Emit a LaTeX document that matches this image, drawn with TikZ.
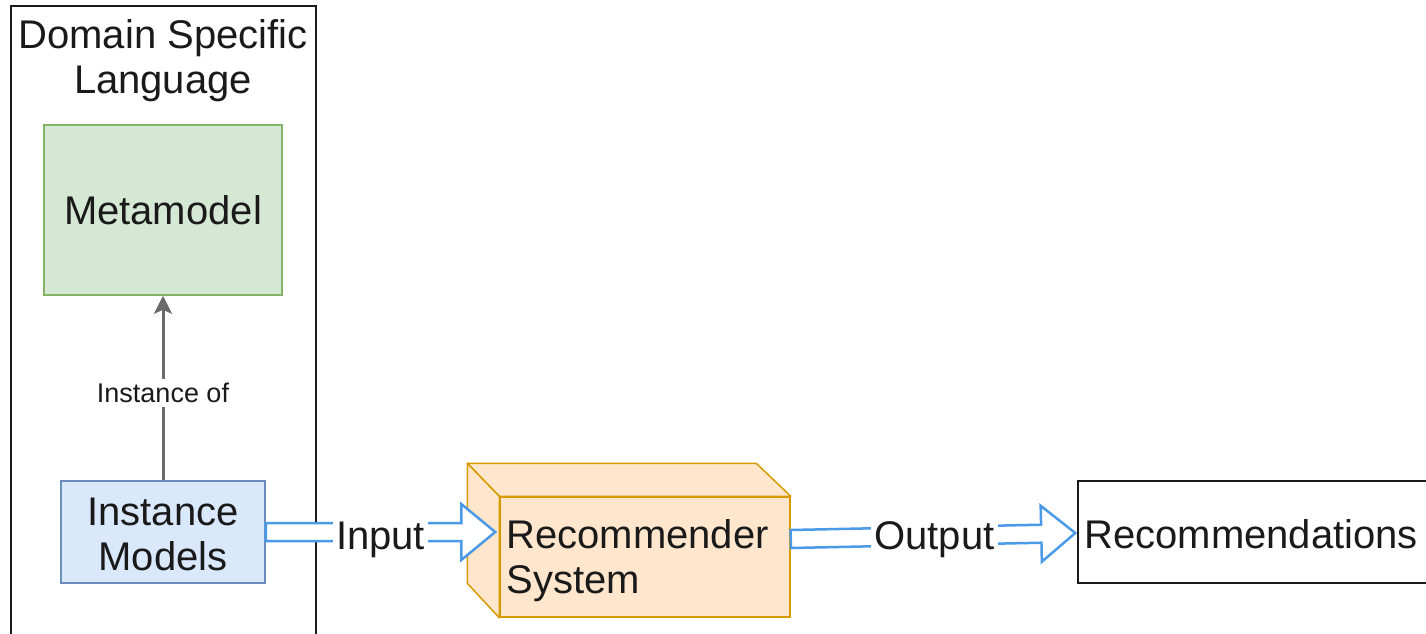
\documentclass[tikz,border=0pt]{standalone}
\usepackage{fontspec}
\setmainfont{Liberation Sans}
\usetikzlibrary{arrows.meta,calc}

\definecolor{mmfill}{HTML}{D5E8D4}
\definecolor{mmline}{HTML}{82B366}
\definecolor{imfill}{HTML}{DAE8FC}
\definecolor{imline}{HTML}{6C8EBF}
\definecolor{rsfill}{HTML}{FFE6CC}
\definecolor{rsline}{HTML}{D79B00}
\definecolor{flowblue}{HTML}{4A9AE8}
\definecolor{relgray}{HTML}{6B6B6B}
\definecolor{ink}{HTML}{1A1A1A}

% hollow block arrow from #1 to the tip #2; #3 names the base of the head
\newcommand\blockarrow[3]{%
  \coordinate (#3) at ($(#2)!34pt!(#1)$);
  \draw[blockarr]
    ($(#1)!9pt!90:(#2)$) -- ($(#3)!9pt!90:(#2)$) -- ($(#3)!28pt!90:(#2)$) --
    (#2) --
    ($(#3)!28pt!-90:(#2)$) -- ($(#3)!9pt!-90:(#2)$) -- ($(#1)!9pt!-90:(#2)$) -- cycle;}

\begin{document}
\begin{tikzpicture}[x=1pt,y=-1pt,
  big/.style={font=\fontsize{40}{45}\selectfont, text=ink},
  box/.style={draw, rectangle, line width=1.5pt, inner sep=0pt},
  blockarr/.style={draw=flowblue, fill=white, line width=2.5pt, line join=miter},
  flowlabel/.style={big, fill=white, inner xsep=3pt, inner ysep=2pt},
  relation/.style={draw=relgray, line width=3pt,
    -{Stealth[length=18pt, width=18pt, inset=4pt]}},
]
\useasboundingbox (0,0) rectangle (1426,633);

% language container (runs on past the lower edge)
\node[box, draw=ink, line width=1.8pt, minimum width=305pt, minimum height=630pt]
  (dsl) at (163.5,321) {};
\node[big, align=center] (title) at (163,61) {Domain Specific\\Language};

\node[box, fill=mmfill, draw=mmline, minimum width=238pt, minimum height=170pt, big]
  (mm) at (163,210) {Metamodel};
\node[box, fill=imfill, draw=imline, minimum width=204pt, minimum height=102pt]
  (im) at (163,532) {};
\node[big, align=center] (imlab) at (163,534) {Instance\\Models};

\draw[relation] (im.north) -- (mm.south);
\node[font=\fontsize{27}{30}\selectfont, text=ink, fill=white, inner sep=4pt]
  (inst) at (163,393) {Instance of};

% recommender system drawn as a cube
\node[box, fill=rsfill, draw=rsline, minimum width=290pt, minimum height=120pt]
  (rs) at (645,557) {};
\draw[fill=rsfill, draw=rsline, line width=1.5pt, line join=round]
  (rs.north west) -- ++(-32,-33) -- ++(289,0) -- (rs.north east) -- cycle;
\draw[fill=rsfill, draw=rsline, line width=1.5pt, line join=round]
  (rs.north west) -- ++(-32,-33) -- ++(0,120) -- (rs.south west) -- cycle;
\node[big, align=left, anchor=west, inner sep=0pt] (rslab)
  at ($(rs.west)+(7,4)$) {Recommender\\System};

% results box (its right side runs past the edge)
\node[box, draw=ink, minimum width=354pt, minimum height=102pt] (rec) at (1255,532) {};
\node[big, anchor=west, inner sep=0pt] (reclab) at ($(rec.west)+(7,2)$) {Recommendations};

% data flow
\coordinate (inA) at (im.east);
\coordinate (inB) at ($(rs.west |- im.east)+(-4,0)$);
\blockarrow{inA}{inB}{inH}
\node[flowlabel] (inlab) at (380.5,540) {Input};

\coordinate (outA) at ($(rs.east)+(0,-18)$);
\coordinate (outB) at ($(rec.west)+(-2,1)$);
\blockarrow{outA}{outB}{outH}
\node[flowlabel] (outlab) at (934.5,540) {Output};
\end{tikzpicture}
\end{document}
